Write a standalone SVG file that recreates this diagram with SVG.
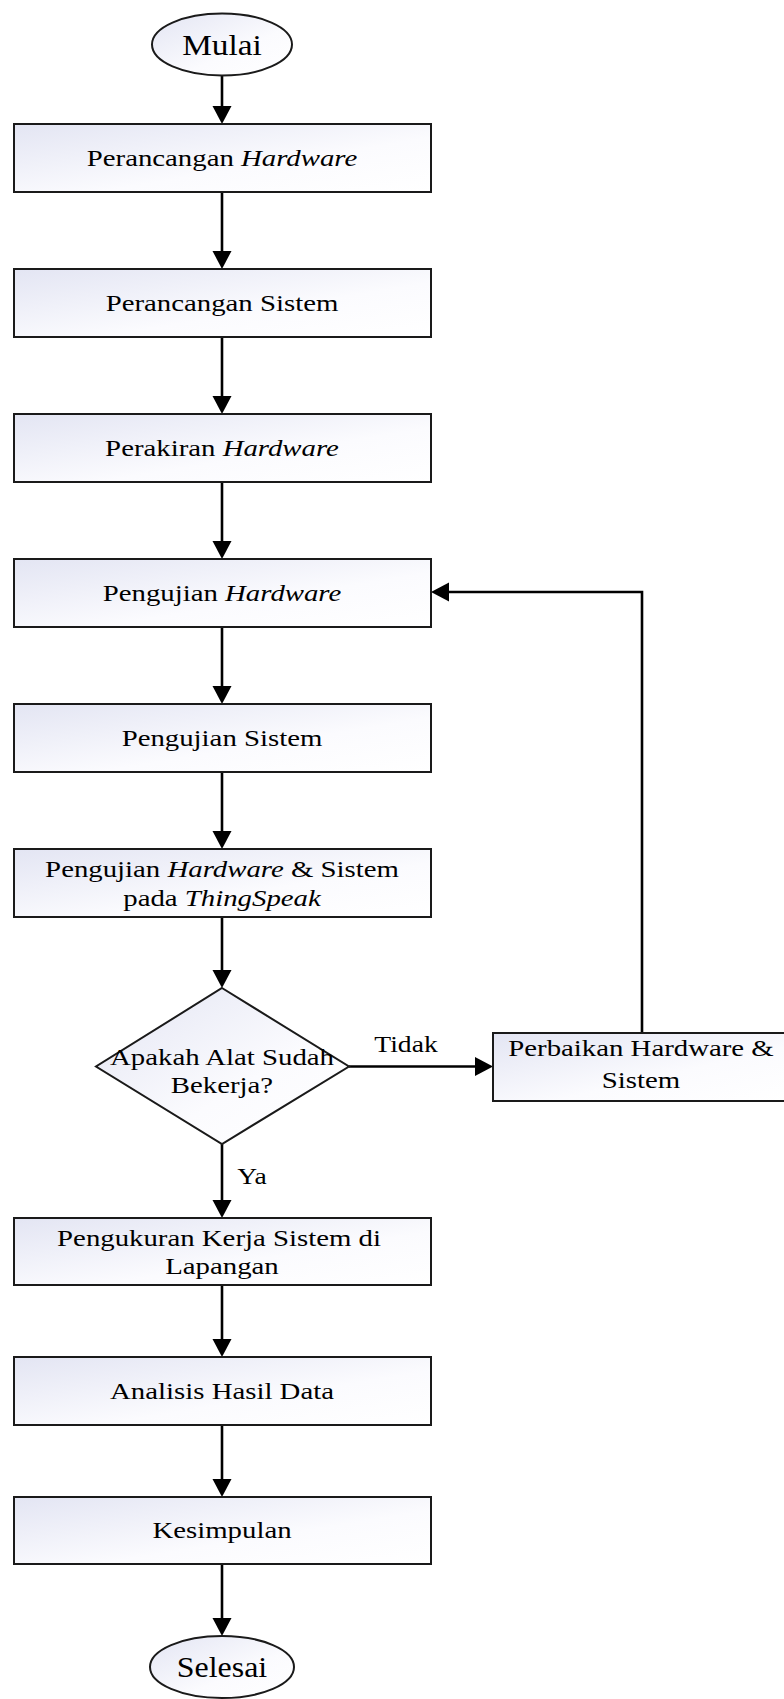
<svg xmlns="http://www.w3.org/2000/svg" width="784" height="1699" viewBox="0 0 784 1699">
  <defs>
    <linearGradient id="fillGrad" x1="0" y1="0" x2="1" y2="1">
      <stop offset="0" stop-color="#e3e5f3"/>
      <stop offset="0.6" stop-color="#fbfbfe"/>
      <stop offset="1" stop-color="#ffffff"/>
    </linearGradient>
    <marker id="arrow" markerUnits="userSpaceOnUse" markerWidth="20" markerHeight="20" refX="8" refY="9.5" orient="auto">
      <path d="M0,0 L18,9.5 L0,19 Z" fill="#000"/>
    </marker>
  </defs>
  <style>
    .shape { fill: url(#fillGrad); stroke: #1a1a1a; stroke-width: 2; }
    .conn { fill: none; stroke: #000; stroke-width: 2.6; marker-end: url(#arrow); }
    text { font-family: "Liberation Serif", "Times New Roman", serif; font-size: 24px; fill: #000; text-anchor: middle; }
    .term { font-size: 29px; }
    .lbl { font-size: 23px; }
    .it { font-style: italic; }
  </style>

  <!-- connectors -->
  <g id="connectors">
    <line class="conn" x1="222" y1="76" x2="222" y2="114"/>
    <line class="conn" x1="222" y1="192" x2="222" y2="259"/>
    <line class="conn" x1="222" y1="337" x2="222" y2="404"/>
    <line class="conn" x1="222" y1="482" x2="222" y2="549"/>
    <line class="conn" x1="222" y1="627" x2="222" y2="694"/>
    <line class="conn" x1="222" y1="772" x2="222" y2="839"/>
    <line class="conn" x1="222" y1="917" x2="222" y2="978"/>
    <line class="conn" x1="349" y1="1066.5" x2="483" y2="1066.5"/>
    <polyline class="conn" points="642,1033 642,592 441,592"/>
    <line class="conn" x1="222" y1="1144" x2="222" y2="1208"/>
    <line class="conn" x1="222" y1="1285" x2="222" y2="1347"/>
    <line class="conn" x1="222" y1="1425" x2="222" y2="1487"/>
    <line class="conn" x1="222" y1="1564" x2="222" y2="1626"/>
    <text class="lbl" transform="translate(406,1052) scale(1.2,1)">Tidak</text>
    <text class="lbl" transform="translate(252,1184) scale(1.2,1)">Ya</text>
  </g>

  <!-- nodes -->
  <g id="mulai">
    <ellipse class="shape" cx="222" cy="44.5" rx="70" ry="31"/>
    <text class="term" transform="translate(222,54.5) scale(1.15,1)">Mulai</text>
  </g>
  <g id="perancangan-hardware">
    <rect class="shape" x="14" y="124" width="417" height="68"/>
    <text transform="translate(222,166) scale(1.2,1)">Perancangan <tspan class="it">Hardware</tspan></text>
  </g>
  <g id="perancangan-sistem">
    <rect class="shape" x="14" y="269" width="417" height="68"/>
    <text transform="translate(222,311) scale(1.2,1)">Perancangan Sistem</text>
  </g>
  <g id="perakiran-hardware">
    <rect class="shape" x="14" y="414" width="417" height="68"/>
    <text transform="translate(222,456) scale(1.2,1)">Perakiran <tspan class="it">Hardware</tspan></text>
  </g>
  <g id="pengujian-hardware">
    <rect class="shape" x="14" y="559" width="417" height="68"/>
    <text transform="translate(222,601) scale(1.2,1)">Pengujian <tspan class="it">Hardware</tspan></text>
  </g>
  <g id="pengujian-sistem">
    <rect class="shape" x="14" y="704" width="417" height="68"/>
    <text transform="translate(222,746) scale(1.2,1)">Pengujian Sistem</text>
  </g>
  <g id="pengujian-thingspeak">
    <rect class="shape" x="14" y="849" width="417" height="68"/>
    <text transform="translate(222,877) scale(1.2,1)">Pengujian <tspan class="it">Hardware</tspan> &amp; Sistem</text>
    <text transform="translate(222,906) scale(1.2,1)">pada <tspan class="it">ThingSpeak</tspan></text>
  </g>
  <g id="keputusan">
    <polygon class="shape" points="222,988 349,1066.5 222,1144 96,1066.5"/>
    <text transform="translate(222,1065) scale(1.2,1)">Apakah Alat Sudah</text>
    <text transform="translate(222,1093) scale(1.2,1)">Bekerja?</text>
  </g>
  <g id="perbaikan">
    <rect class="shape" x="493" y="1033" width="297" height="68"/>
    <text transform="translate(641,1056) scale(1.2,1)">Perbaikan Hardware &amp;</text>
    <text transform="translate(641,1088) scale(1.2,1)">Sistem</text>
  </g>
  <g id="pengukuran">
    <rect class="shape" x="14" y="1218" width="417" height="67"/>
    <text transform="translate(219,1246) scale(1.2,1)">Pengukuran Kerja Sistem di</text>
    <text transform="translate(222,1274) scale(1.2,1)">Lapangan</text>
  </g>
  <g id="analisis">
    <rect class="shape" x="14" y="1357" width="417" height="68"/>
    <text transform="translate(222,1399) scale(1.2,1)">Analisis Hasil Data</text>
  </g>
  <g id="kesimpulan">
    <rect class="shape" x="14" y="1497" width="417" height="67"/>
    <text transform="translate(222,1538) scale(1.2,1)">Kesimpulan</text>
  </g>
  <g id="selesai">
    <ellipse class="shape" cx="222" cy="1667" rx="72" ry="31"/>
    <text class="term" transform="translate(222,1677) scale(1.1,1)">Selesai</text>
  </g>
</svg>
